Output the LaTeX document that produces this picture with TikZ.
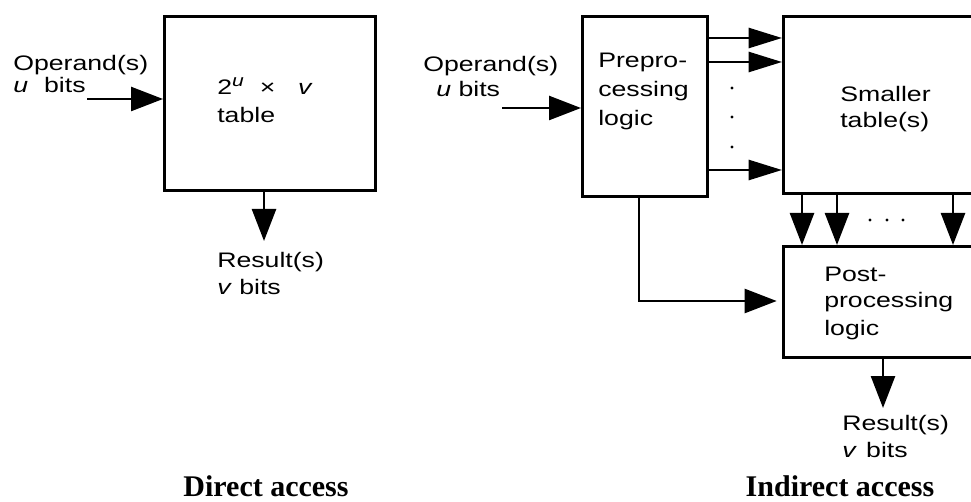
\documentclass[tikz,border=0pt]{standalone}
\usepackage{fontspec}
\setmainfont{Liberation Sans}[FakeStretch=1.27]
\newfontfamily\capfont{Liberation Serif}
\usetikzlibrary{arrows.meta}
\tikzset{
  blk/.style={draw, line width=1.9pt, rectangle, inner sep=0pt, anchor=north west},
  lbl/.style={inner sep=0pt, anchor=base west, font=\fontsize{15.75}{18}\selectfont},
  captext/.style={inner sep=0pt, anchor=base, font=\capfont\bfseries\fontsize{22.5}{26}\selectfont},
  arr/.style={line width=1.9pt, -{Triangle[length=24pt,width=18pt]}},
  sarr/.style={line width=1.9pt, -{Triangle[length=25pt,width=15pt]}},
  smalldot/.style={circle, fill, inner sep=0pt, minimum size=2.6pt}
}
\begin{document}
\begin{tikzpicture}[x=0.75pt,y=-0.75pt]
\clip (0,0) rectangle (971,502);
\fill[white] (0,0) rectangle (971,502);

% ---------- Direct access ----------
\node[blk, minimum width=158.25pt, minimum height=130.5pt] (tab) at (163,15) {};
\node[lbl] (op1) at (13,71) {Operand(s)};
\node[lbl] (op1b) at (13,93) {\textit{u}\hspace{12pt}bits};
\node[lbl] (t1) at (217,95) {2\raisebox{6pt}{\fontsize{12.5}{13}\selectfont\itshape u}\hspace{12pt}×\hspace{17pt}\textit{v}};
\node[lbl] (t2) at (217,123) {table};
\node[lbl] (r1) at (217,268) {Result(s)};
\node[lbl] (r1b) at (217,295) {\textit{v} bits};
\coordinate (in1) at (87,99);
\draw[arr] (in1) -- (tab.west |- in1);
\coordinate (out1) at (264,241);
\draw[arr] (tab.south -| out1) -- (out1);
\node[captext] (c1) at (266,496) {Direct access};

% ---------- Indirect access ----------
\node[blk, minimum width=93.75pt, minimum height=135pt] (pre) at (581,15) {};
\node[blk, minimum width=200pt, minimum height=132.75pt] (small) at (782,15) {};
\node[blk, minimum width=200pt, minimum height=83.25pt] (post) at (782,245) {};

\node[lbl] (op2) at (423,72) {Operand(s)};
\node[lbl] (op2b) at (436,97) {\textit{u} bits};
\node[lbl] (p1) at (598,68) {Prepro-};
\node[lbl] (p2) at (598,97) {cessing};
\node[lbl] (p3) at (598,126) {logic};
\node[lbl] (s1) at (840,102) {Smaller};
\node[lbl] (s2) at (840,128) {table(s)};
\node[lbl] (q1) at (824,282) {Post-};
\node[lbl] (q2) at (824,308) {processing};
\node[lbl] (q3) at (824,335) {logic};
\node[lbl] (r2) at (842,430) {Result(s)};
\node[lbl] (r2b) at (842,457) {\textit{v}\hspace{7pt}bits};
\node[captext] (c2) at (840,496) {Indirect access};

\coordinate (in2) at (502,108);
\draw[arr] (in2) -- (pre.west |- in2);

\foreach \yy in {38,62,170}{
  \draw[sarr] (pre.east |- 0,\yy) -- (small.west |- 0,\yy);
}
\foreach \yy in {88,117,147}{ \node[smalldot] at (732,\yy) {}; }

\foreach \xx in {802,837,953}{
  \draw[arr] (small.south -| \xx,0) -- (post.north -| \xx,0);
}
\foreach \xx in {870,887,903}{ \node[smalldot] at (\xx,220) {}; }

\coordinate (bend) at (639,301);
\draw[arr] (pre.south -| bend) -- (bend) -- ([xshift=-4pt]post.west |- bend);

\coordinate (out2) at (883,408);
\draw[arr] (post.south -| out2) -- (out2);
\end{tikzpicture}
\end{document}
